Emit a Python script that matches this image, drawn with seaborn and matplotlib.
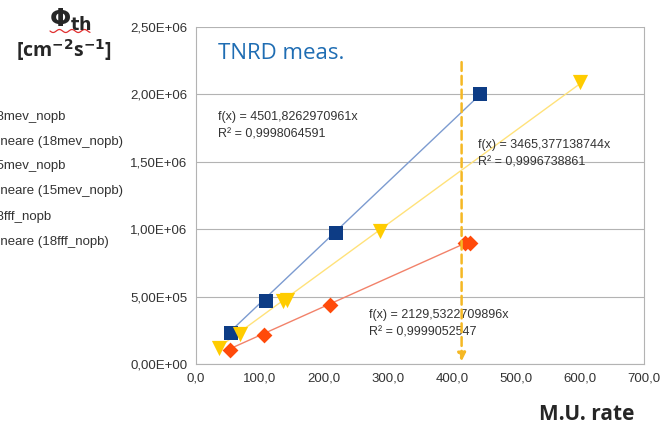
import numpy as np
import pandas as pd
import matplotlib
matplotlib.use("Agg")
import matplotlib.pyplot as plt
import seaborn as sns
from matplotlib.ticker import FuncFormatter, MultipleLocator

# ---- data ----
blue_x = [54, 109, 219, 443]
blue_y = [2.3e5, 4.67e5, 9.7e5, 2.0e6]
yel_x = [36, 68, 136, 142, 288, 600]
yel_y = [1.2e5, 2.25e5, 4.7e5, 4.75e5, 9.9e5, 2.09e6]
red_x = [53, 106, 210, 421, 428]
red_y = [1.05e5, 2.15e5, 4.4e5, 9.0e5, 9.0e5]
slopes = {"18mev_nopb": 4501.8262970961, "15mev_nopb": 3465.377138744, "18fff_nopb": 2129.5322709896}
r2 = {"18mev_nopb": "0,9998064591", "15mev_nopb": "0,9996738861", "18fff_nopb": "0,9999052547"}
slope_txt = {"18mev_nopb": "4501,8262970961", "15mev_nopb": "3465,377138744", "18fff_nopb": "2129,5322709896"}
legend_labels = ["18mev_nopb", "Lineare (18mev_nopb)", "15mev_nopb", "Lineare (15mev_nopb)",
                 "18fff_nopb", "Lineare (18fff_nopb)"]
meas_x = 415

sns.set_style("white")
plt.rcParams['font.family'] = ['Liberation Sans Narrow', 'Liberation Sans', 'DejaVu Sans']

fig = plt.figure(figsize=(6.64, 4.29), dpi=100)
ax = fig.add_axes([196/664, 1-364/429, (644-196)/664, (364-27)/429])

series = [
    ("18mev_nopb", blue_x, blue_y, "#0d3c85", "#7c9bd0", "s", 110),
    ("15mev_nopb", yel_x, yel_y, "#ffcc00", "#ffe27a", "v", 120),
    ("18fff_nopb", red_x, red_y, "#ff4a0a", "#f2826a", "D", 65),
]
for name, xs, ys, mc, lc, mk, sz in series:
    xs_a = np.array(xs, dtype=float)
    fit_x = np.array([xs_a.min(), xs_a.max()])
    fit = pd.DataFrame({"x": fit_x, "y": slopes[name] * fit_x})
    sns.lineplot(data=fit, x="x", y="y", ax=ax, color=lc, linewidth=1.0, zorder=2)
    df = pd.DataFrame({"x": xs, "y": ys})
    sns.scatterplot(data=df, x="x", y="y", ax=ax, color=mc, marker=mk, s=sz,
                    edgecolor=mc, linewidth=0, zorder=3)

ax.set_xlim(0, 700)
ax.set_ylim(0, 2.5e6)
ax.xaxis.set_major_locator(MultipleLocator(100))
ax.yaxis.set_major_locator(MultipleLocator(5e5))
ax.xaxis.set_major_formatter(FuncFormatter(lambda v, p: f"{v:.1f}".replace(".", ",")))
def yfmt(v, p):
    if v <= 0:
        return "0,00E+00"
    e = int(np.floor(np.log10(v)))
    m = v / 10**e
    return f"{m:.2f}".replace(".", ",") + f"E+{e:02d}"
ax.yaxis.set_major_formatter(FuncFormatter(yfmt))
ax.grid(axis="y", color="#b3b3b3", linewidth=0.8)
ax.grid(axis="x", visible=False)
for s in ["left", "right", "bottom"]:
    ax.spines[s].set_color("#b3b3b3")
    ax.spines[s].set_linewidth(0.8)
ax.spines["top"].set_visible(False)
ax.tick_params(axis="both", which="major", labelsize=9.5, colors="#b3b3b3", labelcolor="#333333",
               direction="inout", length=6, width=0.8, pad=3)
ax.set_xlabel("")
ax.set_ylabel("")

# measurement line
ax.annotate("", xy=(meas_x, 0), xytext=(meas_x, 2.26e6),
            arrowprops=dict(arrowstyle="-|>", color="#f5b824", lw=1.8, linestyle=(0, (3.5, 2)),
                            mutation_scale=12), zorder=4)

# fit annotations
fit_fs = 9
ax.text(34, 1.88e6, f"f(x) = {slope_txt['18mev_nopb']}x\nR² = {r2['18mev_nopb']}",
        fontsize=fit_fs, color="#333333", va="top", linespacing=1.65)
ax.text(440, 1.67e6, f"f(x) = {slope_txt['15mev_nopb']}x\nR² = {r2['15mev_nopb']}",
        fontsize=fit_fs, color="#333333", va="top", linespacing=1.65)
ax.text(271, 4.07e5, f"f(x) = {slope_txt['18fff_nopb']}x\nR² = {r2['18fff_nopb']}",
        fontsize=fit_fs, color="#333333", va="top", linespacing=1.65)

ax.text(34, 2.3e6, "TNRD meas.", fontsize=16, color="#1f6db3",
        family=["Open Sans", "DejaVu Sans"], va="center")

# axis labels (figure text)
fig.text(634/664, 1-415/429, "M.U. rate", fontsize=15, fontweight="bold", ha="right", va="center",
         family=["Open Sans", "DejaVu Sans"])
fig.text(70/664, 1-20/429, r"$\mathbf{\Phi}_{\mathbf{th}}$", fontsize=18, ha="center", va="center")
fig.text(64/664, 1-50/429, r"[cm$^{\mathbf{-2}}$s$^{\mathbf{-1}}$]", fontsize=14, fontweight="bold",
         ha="center", va="center", family=["Open Sans", "DejaVu Sans"])
# red wavy underline
wx = np.linspace(50, 90, 60)
wy = 31 + 1.5 * np.sin((wx - 50) / 2.0)
fig.add_artist(plt.Line2D(wx / 664, 1 - wy / 429, color="#e03030", lw=0.9))

# cut-off legend labels on the left (as in the reference)
leg_y = [117, 142, 166, 191, 217, 242]
for lab, yy in zip(legend_labels, leg_y):
    fig.text(-10/664, 1 - yy/429, lab, fontsize=9.5, color="#333333", va="center", ha="left")

fig.savefig("out.png", dpi=100)
